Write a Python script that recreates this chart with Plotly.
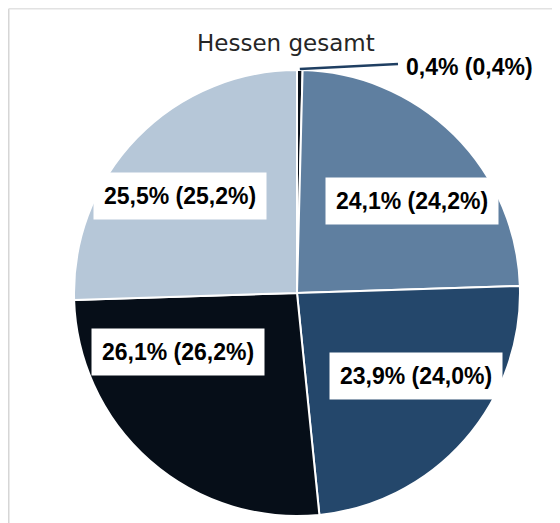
import math
import plotly.graph_objects as go

# ---- data ----
categories = ["Gruppe A", "Gruppe B", "Gruppe C", "Gruppe D", "Gruppe E"]
share_now = [0.4, 24.1, 23.9, 26.1, 25.5]
share_prev = [0.4, 24.2, 24.0, 26.2, 25.2]
title_text = "Hessen gesamt"

# ---- styling / layout ----
W, H = 560, 523
OFF = 8  # page body margin: figure starts 8px in from the window corner
FW, FH = W - OFF, H - OFF
colors = ["#0B121C", "#5F7FA0", "#24476B", "#060E18", "#B6C7D8"]
cx, cy, R = 297, 293, 223  # pie centre & radius in window pixels
# label box centres (window pixels) for the inside labels; slice 0 label is outside
label_pos = [None, (412, 201), (416, 376), (178, 352), (180, 196)]
small_label_left = (404, 67)


def fmt(v):
    return f"{v:.1f}".replace(".", ",") + "%"


def px(x):
    return (x - OFF) / FW


def py(y):
    return 1 - (y - OFF) / FH


fig = go.Figure(
    go.Pie(
        labels=categories,
        values=share_now,
        sort=False,
        direction="clockwise",
        rotation=0,
        marker=dict(colors=colors, line=dict(color="white", width=2)),
        textinfo="none",
        hoverinfo="label+percent",
        showlegend=False,
        domain=dict(x=[px(cx - R), px(cx + R)], y=[max(0, py(cy + R)), py(cy - R)]),
    )
)

annotations = []
texts = [f"<b>{fmt(a)} ({fmt(b)})</b>" for a, b in zip(share_now, share_prev)]
lab_font = dict(family="Liberation Sans, Arial, sans-serif", size=23, color="black")
for i, t in enumerate(texts):
    if label_pos[i] is None:
        continue
    x, y = label_pos[i]
    annotations.append(
        dict(
            x=px(x), y=py(y), xref="paper", yref="paper",
            xanchor="center", yanchor="middle",
            text=t, showarrow=False, font=lab_font,
            bgcolor="white", borderpad=10,
        )
    )

# small slice label with leader line from mid-angle of the slice
total = sum(share_now)
mid = share_now[0] / 2 / total * 2 * math.pi
sx = cx + R * math.sin(mid)
sy = cy - R * math.cos(mid)
annotations.append(
    dict(
        x=px(small_label_left[0]), y=py(small_label_left[1]), xref="paper", yref="paper",
        xanchor="left", yanchor="middle", text=texts[0], showarrow=False, font=lab_font,
    )
)
annotations.append(
    dict(
        x=px(286), y=py(43), xref="paper", yref="paper",
        xanchor="center", yanchor="middle", text=title_text, showarrow=False,
        font=dict(family="DejaVu Sans, sans-serif", size=23, color="#262626"),
    )
)

fx = OFF + 0.75  # frame as close to the window corner as the figure allows
shapes = [
    dict(type="line", xref="paper", yref="paper",
         x0=px(sx), y0=py(sy - 1), x1=px(small_label_left[0] - 6), y1=py(small_label_left[1] - 3),
         line=dict(color="#1F3F62", width=2.5)),
    # frame
    dict(type="line", xref="paper", yref="paper", x0=px(fx), y0=py(fx), x1=px(fx), y1=py(H + 5),
         line=dict(color="#D6D6D6", width=1.5)),
    dict(type="line", xref="paper", yref="paper", x0=px(fx), y0=py(fx), x1=px(554), y1=py(fx),
         line=dict(color="#E2E2E2", width=1.5)),
]

fig.update_layout(
    width=FW, height=FH, autosize=False,
    margin=dict(l=0, r=0, t=0, b=0),
    paper_bgcolor="white", plot_bgcolor="white",
    annotations=annotations, shapes=shapes,
)

fig.write_html("out.html")
